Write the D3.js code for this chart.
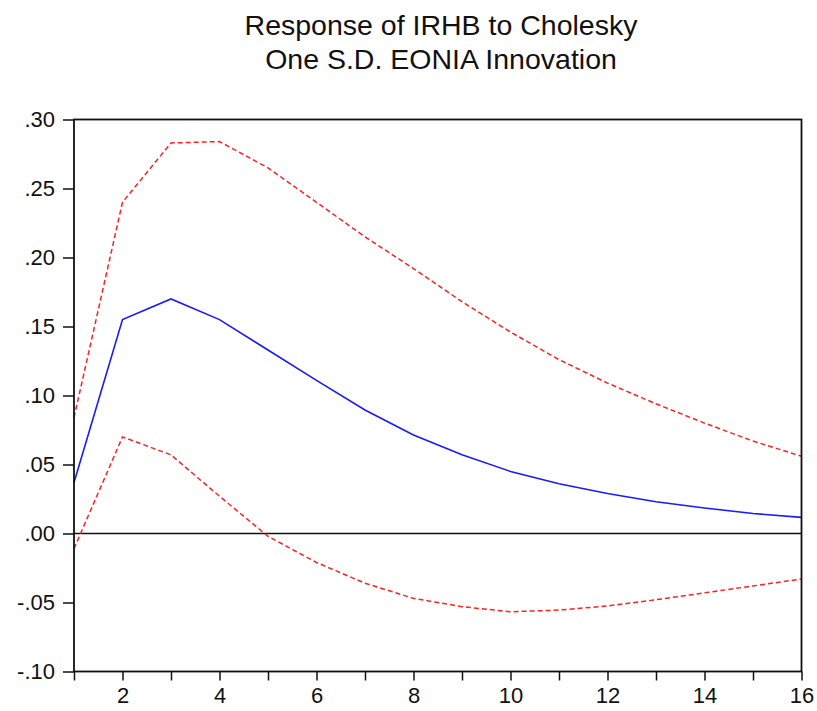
<!DOCTYPE html>
<html><head><meta charset="utf-8">
<script src="https://cdn.jsdelivr.net/npm/d3@7"></script>
<style>body{margin:0;background:#fff}svg{display:block}text{font-family:"Liberation Sans",Arial,sans-serif;fill:#111}</style>
</head><body><svg id="c" width="817" height="711"></svg>
<script>
const titleLines = ["Response of IRHB to Cholesky", "One S.D. EONIA Innovation"];
const periods = [1,2,3,4,5,6,7,8,9,10,11,12,13,14,15,16];
const response = [0.037,0.155,0.170,0.155,0.133,0.111,0.0895,0.0714,0.057,0.045,0.036,0.029,0.023,0.0185,0.0145,0.0117];
const upper = [0.084,0.240,0.283,0.284,0.265,0.240,0.215,0.192,0.168,0.146,0.126,0.109,0.094,0.080,0.067,0.056];
const lower = [-0.011,0.070,0.057,0.027,-0.002,-0.021,-0.036,-0.047,-0.053,-0.0567,-0.0555,-0.0525,-0.048,-0.043,-0.038,-0.033];
const yTicks = [0.30,0.25,0.20,0.15,0.10,0.05,0.00,-0.05,-0.10];
const xLabels = [2,4,6,8,10,12,14,16];

const svg = d3.select("#c");
const L=74, R=801.5, T=119.5, B=671.5;
const x = d3.scaleLinear().domain([1,16]).range([L,R]);
const y = d3.scaleLinear().domain([-0.10,0.30]).range([B,T]);

svg.append("g").selectAll("text").data(titleLines).join("text")
  .attr("x",441).attr("y",(d,i)=>35+i*34).attr("text-anchor","middle")
  .style("font-size","28.5px").text(d=>d);

const fmt = v => d3.format(".2f")(v).replace("\u2212","-").replace(/^(-?)0\./,"$1.");
const yAxis = svg.append("g").attr("transform",`translate(${L},0)`)
  .call(d3.axisLeft(y).tickValues(yTicks).tickSize(11).tickPadding(8).tickFormat(fmt));
yAxis.select(".domain").remove();
yAxis.selectAll("line").attr("stroke","#111").attr("stroke-width",1.5);
yAxis.selectAll("text").style("font-size","22px").style("font-family","Liberation Sans, Arial, sans-serif").attr("fill","#111");

const xAxis = svg.append("g").attr("transform",`translate(0,${B})`)
  .call(d3.axisBottom(x).tickValues(periods).tickSize(9).tickPadding(7)
    .tickFormat(d=>xLabels.includes(d)?d:""));
xAxis.select(".domain").remove();
xAxis.selectAll("line").attr("stroke","#111").attr("stroke-width",1.5);
xAxis.selectAll("text").style("font-size","22px").style("font-family","Liberation Sans, Arial, sans-serif").attr("fill","#111");

svg.append("line").attr("x1",L).attr("x2",R).attr("y1",y(0)).attr("y2",y(0))
  .attr("stroke","#111").attr("stroke-width",1.6);

const line = d3.line().x((d,i)=>x(periods[i])).y(d=>y(d));
svg.append("path").datum(upper).attr("d",line).attr("fill","none")
  .attr("stroke","#ff2020").attr("stroke-width",1.5).attr("stroke-dasharray","5,3");
svg.append("path").datum(lower).attr("d",line).attr("fill","none")
  .attr("stroke","#ff2020").attr("stroke-width",1.5).attr("stroke-dasharray","5,3");
svg.append("path").datum(response).attr("d",line).attr("fill","none")
  .attr("stroke","#1a1aff").attr("stroke-width",1.6);

svg.append("rect").attr("x",L).attr("y",T).attr("width",R-L).attr("height",B-T)
  .attr("fill","none").attr("stroke","#111").attr("stroke-width",1.8);
</script></body></html>
